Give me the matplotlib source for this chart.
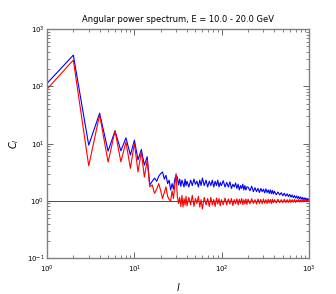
import numpy as np
import matplotlib
matplotlib.use('Agg')
import matplotlib.pyplot as plt

# low multipoles, one value per l
l_low = list(range(1, 31))
blue_low = [113, 351, 9.4, 34, 7.4, 16.7, 7.5, 12.6, 6.3, 11.5,
            5.2, 7.9, 4.2, 5.9, 1.9, 2.2, 2.5, 2.2, 2.7, 3.0,
            3.2, 2.4, 2.8, 2.0, 2.3, 1.55, 2.0, 1.6, 2.4, 2.8]
red_low = [89.5, 288, 4.1, 32, 4.75, 16.7, 4.8, 10.7, 3.7, 10.2,
           3.2, 7.2, 2.6, 5.1, 1.76, 1.9, 1.35, 1.6, 2.0, 1.5,
           1.1, 1.4, 1.76, 1.2, 1.05, 1.0, 1.5, 1.1, 1.8, 3.0]

# high multipoles, sampled
l_high = [31, 32, 33, 34, 35, 36, 37, 38, 39, 40,
          42, 44, 46, 48, 50, 52, 54, 56, 58, 60,
          63, 66, 69, 72, 75, 78, 81, 84, 87, 90, 93, 96, 99,
          104, 109, 114, 119, 124, 129, 134, 139, 144, 149,
          154, 159, 164, 169, 174, 179, 184, 189, 194,
          200, 210, 220, 230, 240, 250, 260, 270, 280, 290,
          300, 310, 320, 330, 340, 350, 360, 370, 380, 390, 400,
          420, 440, 460, 480, 500, 520, 540, 560, 580, 600,
          620, 640, 660, 680, 700, 720, 740, 760, 780, 800,
          820, 840, 860, 880, 900, 920, 940, 960, 980, 1000]
blue_high = [2.6, 1.9, 2.4, 1.8, 2.3, 2.0, 1.75, 2.4, 1.85, 2.2,
             1.75, 2.3, 1.85, 2.4, 1.95, 2.2, 1.75, 2.3, 1.85, 2.5,
             1.85, 2.3, 1.75, 2.2, 1.85, 2.3, 1.75, 2.2, 1.85, 2.3, 1.75, 2.1, 1.85,
             2.25, 1.75, 2.1, 1.75, 2.15, 1.65, 1.95, 1.75, 2.05, 1.65,
             1.95, 1.55, 1.85, 1.65, 1.95, 1.55, 1.85, 1.55, 1.75,
             1.75, 1.5, 1.8, 1.45, 1.7, 1.45, 1.65, 1.4, 1.65, 1.45,
             1.6, 1.38, 1.62, 1.4, 1.55, 1.35, 1.56, 1.34, 1.52, 1.32, 1.48,
             1.28, 1.43, 1.27, 1.39, 1.23, 1.36, 1.21, 1.33, 1.19, 1.3,
             1.16, 1.27, 1.14, 1.24, 1.12, 1.22, 1.1, 1.19, 1.09, 1.17,
             1.07, 1.15, 1.06, 1.13, 1.04, 1.12, 1.03, 1.1, 1.03, 1.07]
red_high = [1.2, 0.9, 1.15, 0.8, 1.25, 0.78, 1.1, 0.85, 1.2, 0.82,
            1.15, 0.85, 1.25, 0.8, 1.1, 0.9, 1.2, 0.78, 1.05, 0.72,
            1.15, 0.85, 1.1, 0.8, 1.15, 0.85, 1.05, 0.8, 1.12, 0.88, 1.1, 0.82, 1.05,
            0.86, 1.12, 0.85, 1.08, 0.88, 1.1, 0.83, 1.05, 0.89, 1.09,
            0.85, 1.07, 0.9, 1.1, 0.86, 1.05, 0.88, 1.08, 0.87,
            1.07, 0.89, 1.09, 0.9, 1.05, 0.88, 1.08, 0.9, 1.06, 0.89,
            1.08, 0.91, 1.05, 0.9, 1.07, 0.92, 1.06, 0.9, 1.07, 0.93, 1.05,
            0.92, 1.07, 0.93, 1.05, 0.93, 1.07, 0.93, 1.05, 0.94, 1.06,
            0.94, 1.05, 0.95, 1.06, 0.94, 1.04, 0.96, 1.06, 0.95, 1.04,
            0.96, 1.05, 0.96, 1.04, 0.97, 1.04, 0.96, 1.03, 0.98, 1.03]

ell = np.array(l_low + l_high)
cl_blue = np.array(blue_low + blue_high)
cl_red = np.array(red_low + red_high)

plt.rcParams['font.family'] = ['DejaVu Sans']
plt.rcParams['mathtext.fontset'] = 'dejavusans'

fig = plt.figure(figsize=(3.36, 2.94), dpi=100)
ax = fig.add_axes([0.140, 0.122, 0.780, 0.779])

ax.plot(ell, cl_blue, color='b', lw=0.8)
ax.plot(ell, cl_red, color='r', lw=0.8)
ax.axhline(1.0, color='g', lw=0.7)

ax.set_xscale('log')
ax.set_yscale('log')
ax.set_xlim(1, 1000)
ax.set_ylim(0.1, 1000)

ax.set_title('Angular power spectrum, E = 10.0 - 20.0 GeV', fontsize=6, pad=5)
ax.set_xlabel('$l$', fontsize=7)
ax.set_ylabel('$C_l$', fontsize=7)

ax.tick_params(which='both', direction='in', top=True, right=True,
               labelsize=5, color='0.3')
ax.tick_params(axis='x', pad=4)
ax.tick_params(axis='y', pad=2)
ax.tick_params(which='major', length=4, width=0.6)
ax.tick_params(which='minor', length=2, width=0.5)
for s in ax.spines.values():
    s.set_color('0.5')
    s.set_linewidth(1.0)

fig.savefig('out.png', dpi=100, facecolor='white')
